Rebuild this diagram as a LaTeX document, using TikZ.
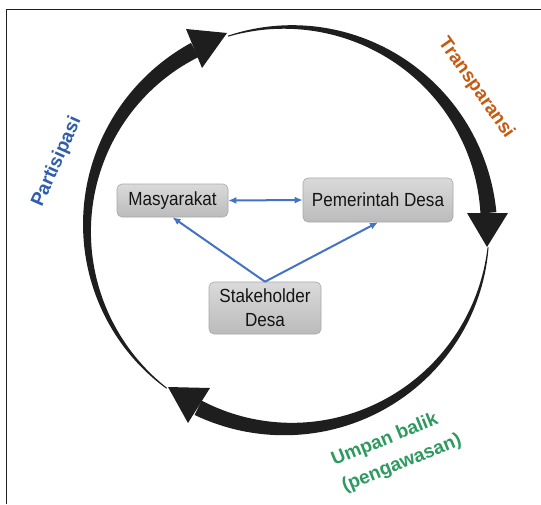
\documentclass[tikz,border=0pt]{standalone}
\usepackage{fontspec}
\setmainfont{Liberation Sans}
\newfontfamily\boxfont{Liberation Sans}[FakeStretch=0.9]
\usetikzlibrary{arrows.meta}
\definecolor{arrowblack}{HTML}{1E1E1E}
\definecolor{linkblue}{HTML}{4472C4}
\definecolor{partblue}{HTML}{2F5EAA}
\definecolor{transorange}{HTML}{C55A11}
\definecolor{umpangreen}{HTML}{2F9A60}
\definecolor{boxtop}{HTML}{DADADA}
\definecolor{boxbottom}{HTML}{BBBBBB}
\definecolor{boxedge}{HTML}{A8A8A8}
\newcommand\swoosh[2]{%
  \fill[arrowblack] plot[domain=0:1,samples=90,variable=\t]
    ({288+(201.5+7.5*\t)*cos(#1+(#2-#1)*\t)},{228-(201.5+7.5*\t)*sin(#1+(#2-#1)*\t)})
    -- plot[domain=1:0,samples=90,variable=\t]
    ({288+(200.5-7.5*\t)*cos(#1+(#2-#1)*\t)},{228-(200.5-7.5*\t)*sin(#1+(#2-#1)*\t)})
    -- cycle;}
\tikzset{
  greybox/.style={rounded corners=5pt, draw=boxedge, line width=0.6pt,
    top color=boxtop, bottom color=boxbottom, text=black!92,
    font=\boxfont\fontsize{19}{24}\selectfont, align=center, inner sep=0pt},
  tipshape/.style={Latex[length=8pt,width=7pt]},
  link/.style={draw=linkblue, line width=2pt, -{Latex[length=8pt,width=7pt]}},
  cyclelabel/.style={font=\fontsize{19}{28}\selectfont\bfseries, inner sep=0pt},
  frameline/.style={draw=black!88, line width=1.6pt}
}
\begin{document}
\begin{tikzpicture}[x=1pt,y=-1pt]
\useasboundingbox (0,0) rectangle (541,504);
\fill[white] (0,0) rectangle (541,504);
% frame
\coordinate (f1) at (6.5,504);
\coordinate (f2) at (6.5,9.5);
\coordinate (f3) at (541,9.5);
\draw[frameline] (f1) -- (f2) -- (f3);
% cycle arrows
\swoosh{232.9}{117.6}
\fill[arrowblack] (186,29) -- (227,33) -- (202,68) -- cycle;
\swoosh{107.4}{4.3}
\fill[arrowblack] (467,213) -- (487,247) -- (508,213) -- cycle;
\swoosh{354.5}{243.4}
\fill[arrowblack] (210,388) -- (168,387) -- (188,423) -- cycle;
% boxes
\node[greybox, minimum width=111pt, minimum height=33pt] (mas) at (172.5,200.5) {Masyarakat};
\node[greybox, minimum width=150pt, minimum height=44pt] (pem) at (378,200) {Pemerintah Desa};
\node[greybox, minimum width=112pt, minimum height=52pt] (stk) at (265,308) {Stakeholder\\Desa};
% links
\draw[link, {Latex[length=8pt,width=7pt]}-{Latex[length=8pt,width=7pt]}] (mas.east) -- (pem.west);
\draw[link] (stk.north) -- (mas.south);
\draw[link] (stk.north) -- (pem.south);
% labels
\node[cyclelabel, text=partblue, rotate=66] (lpart) at (57,162) {Partisipasi};
\node[cyclelabel, text=transorange, rotate=-55] (ltrans) at (476,88) {Transparansi};
\node[cyclelabel, text=umpangreen, rotate=22, align=left] (lumpan) at (396.6,450.7) {Umpan balik\\(pengawasan)};
\end{tikzpicture}
\end{document}
